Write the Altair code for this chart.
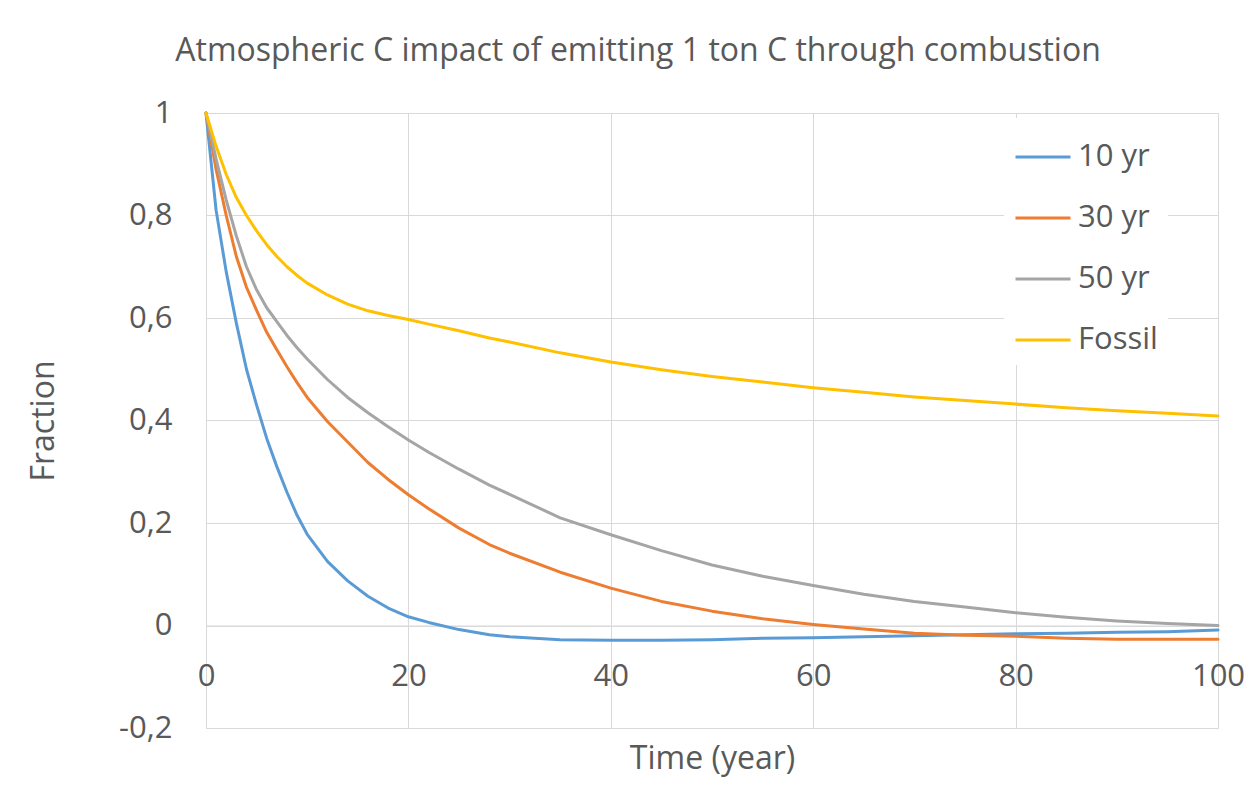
import altair as alt
import pandas as pd

years = [0, 1, 2, 3, 4, 5, 6, 7, 8, 9, 10, 12, 14, 16, 18, 20, 22, 25, 28, 30,
         35, 40, 45, 50, 55, 60, 65, 70, 75, 80, 85, 90, 95, 100]

yr10 = [1.0, 0.81, 0.69, 0.59, 0.50, 0.43, 0.365, 0.31, 0.26, 0.215, 0.178, 0.125,
        0.087, 0.057, 0.034, 0.017, 0.006, -0.008, -0.018, -0.022, -0.028, -0.029,
        -0.029, -0.028, -0.025, -0.024, -0.022, -0.020, -0.018, -0.016, -0.015,
        -0.013, -0.012, -0.009]

yr30 = [1.0, 0.89, 0.80, 0.72, 0.66, 0.615, 0.572, 0.538, 0.505, 0.474, 0.445, 0.398,
        0.358, 0.318, 0.285, 0.255, 0.228, 0.19, 0.158, 0.141, 0.104, 0.073, 0.047,
        0.028, 0.013, 0.002, -0.007, -0.015, -0.019, -0.021, -0.025, -0.027, -0.027,
        -0.027]

yr50 = [1.0, 0.91, 0.83, 0.76, 0.70, 0.655, 0.62, 0.593, 0.566, 0.542, 0.52, 0.48,
        0.445, 0.415, 0.388, 0.362, 0.338, 0.305, 0.274, 0.256, 0.21, 0.177, 0.146,
        0.118, 0.096, 0.078, 0.061, 0.047, 0.036, 0.025, 0.016, 0.009, 0.004, 0.0]

fossil = [1.0, 0.935, 0.88, 0.835, 0.80, 0.77, 0.743, 0.72, 0.70, 0.683, 0.668, 0.645,
          0.627, 0.614, 0.605, 0.597, 0.588, 0.575, 0.561, 0.553, 0.532, 0.514, 0.499,
          0.486, 0.475, 0.464, 0.455, 0.446, 0.439, 0.432, 0.425, 0.419, 0.414, 0.409]

series_names = ["10 yr", "30 yr", "50 yr", "Fossil"]
series_colors = ["#5B9BD5", "#ED7D31", "#A5A5A5", "#FFC000"]
y_ticks = [-0.2, 0, 0.2, 0.4, 0.6, 0.8, 1]
x_ticks = [0, 20, 40, 60, 80, 100]

rows = []
for name, vals in zip(series_names, [yr10, yr30, yr50, fossil]):
    for t, v in zip(years, vals):
        rows.append({"Time": t, "Fraction": v, "Series": name})
df = pd.DataFrame(rows)

FONT = "Open Sans"
TXT = "#595959"
GRID = "#D9D9D9"

chart = alt.Chart(df).mark_line(strokeWidth=3, strokeCap="round", strokeJoin="round").encode(
    x=alt.X("Time:Q",
            scale=alt.Scale(domain=[0, 100], nice=False),
            axis=alt.Axis(values=x_ticks, title="Time (year)", offset=-102.5,
                          grid=True, gridColor=GRID, ticks=False, labelFlush=False,
                          labelOverlap=False,
                          domainColor=GRID, labelPadding=36, titlePadding=52,
                          labelFontSize=31, titleFontSize=32, labelColor=TXT,
                          titleColor=TXT, labelFont=FONT, titleFont=FONT,
                          titleFontWeight="normal")),
    y=alt.Y("Fraction:Q",
            scale=alt.Scale(domain=[-0.2, 1], nice=False),
            axis=alt.Axis(values=y_ticks, title="Fraction", grid=True,
                          gridColor=GRID, ticks=False, domain=False,
                          labelExpr="replace(toString(datum.value), '.', ',')",
                          labelPadding=34, titlePadding=58,
                          labelFontSize=31, titleFontSize=32, labelColor=TXT,
                          titleColor=TXT, labelFont=FONT, titleFont=FONT,
                          titleFontWeight="normal")),
    color=alt.Color("Series:N",
                    scale=alt.Scale(domain=series_names, range=series_colors),
                    legend=alt.Legend(orient="none", legendX=798, legendY=5,
                                      title=None, symbolType="stroke",
                                      symbolSize=3025, symbolStrokeWidth=3,
                                      labelFontSize=31, labelFont=FONT,
                                      labelColor=TXT, fillColor="white",
                                      padding=10, rowPadding=17, labelOffset=6)),
).properties(
    width=1012,
    height=615,
    title=alt.Title("Atmospheric C impact of emitting 1 ton C through combustion",
                    fontSize=32, font=FONT, color=TXT, fontWeight="normal",
                    anchor="middle", dx=-74, offset=29),
    padding={"left": 206, "top": 113, "right": 31, "bottom": 80},
    autosize=alt.AutoSizeParams(type="none"),
).configure_view(stroke=None).configure(background="white")

chart.save("out.html", embed_options={"renderer": "svg", "actions": False})
